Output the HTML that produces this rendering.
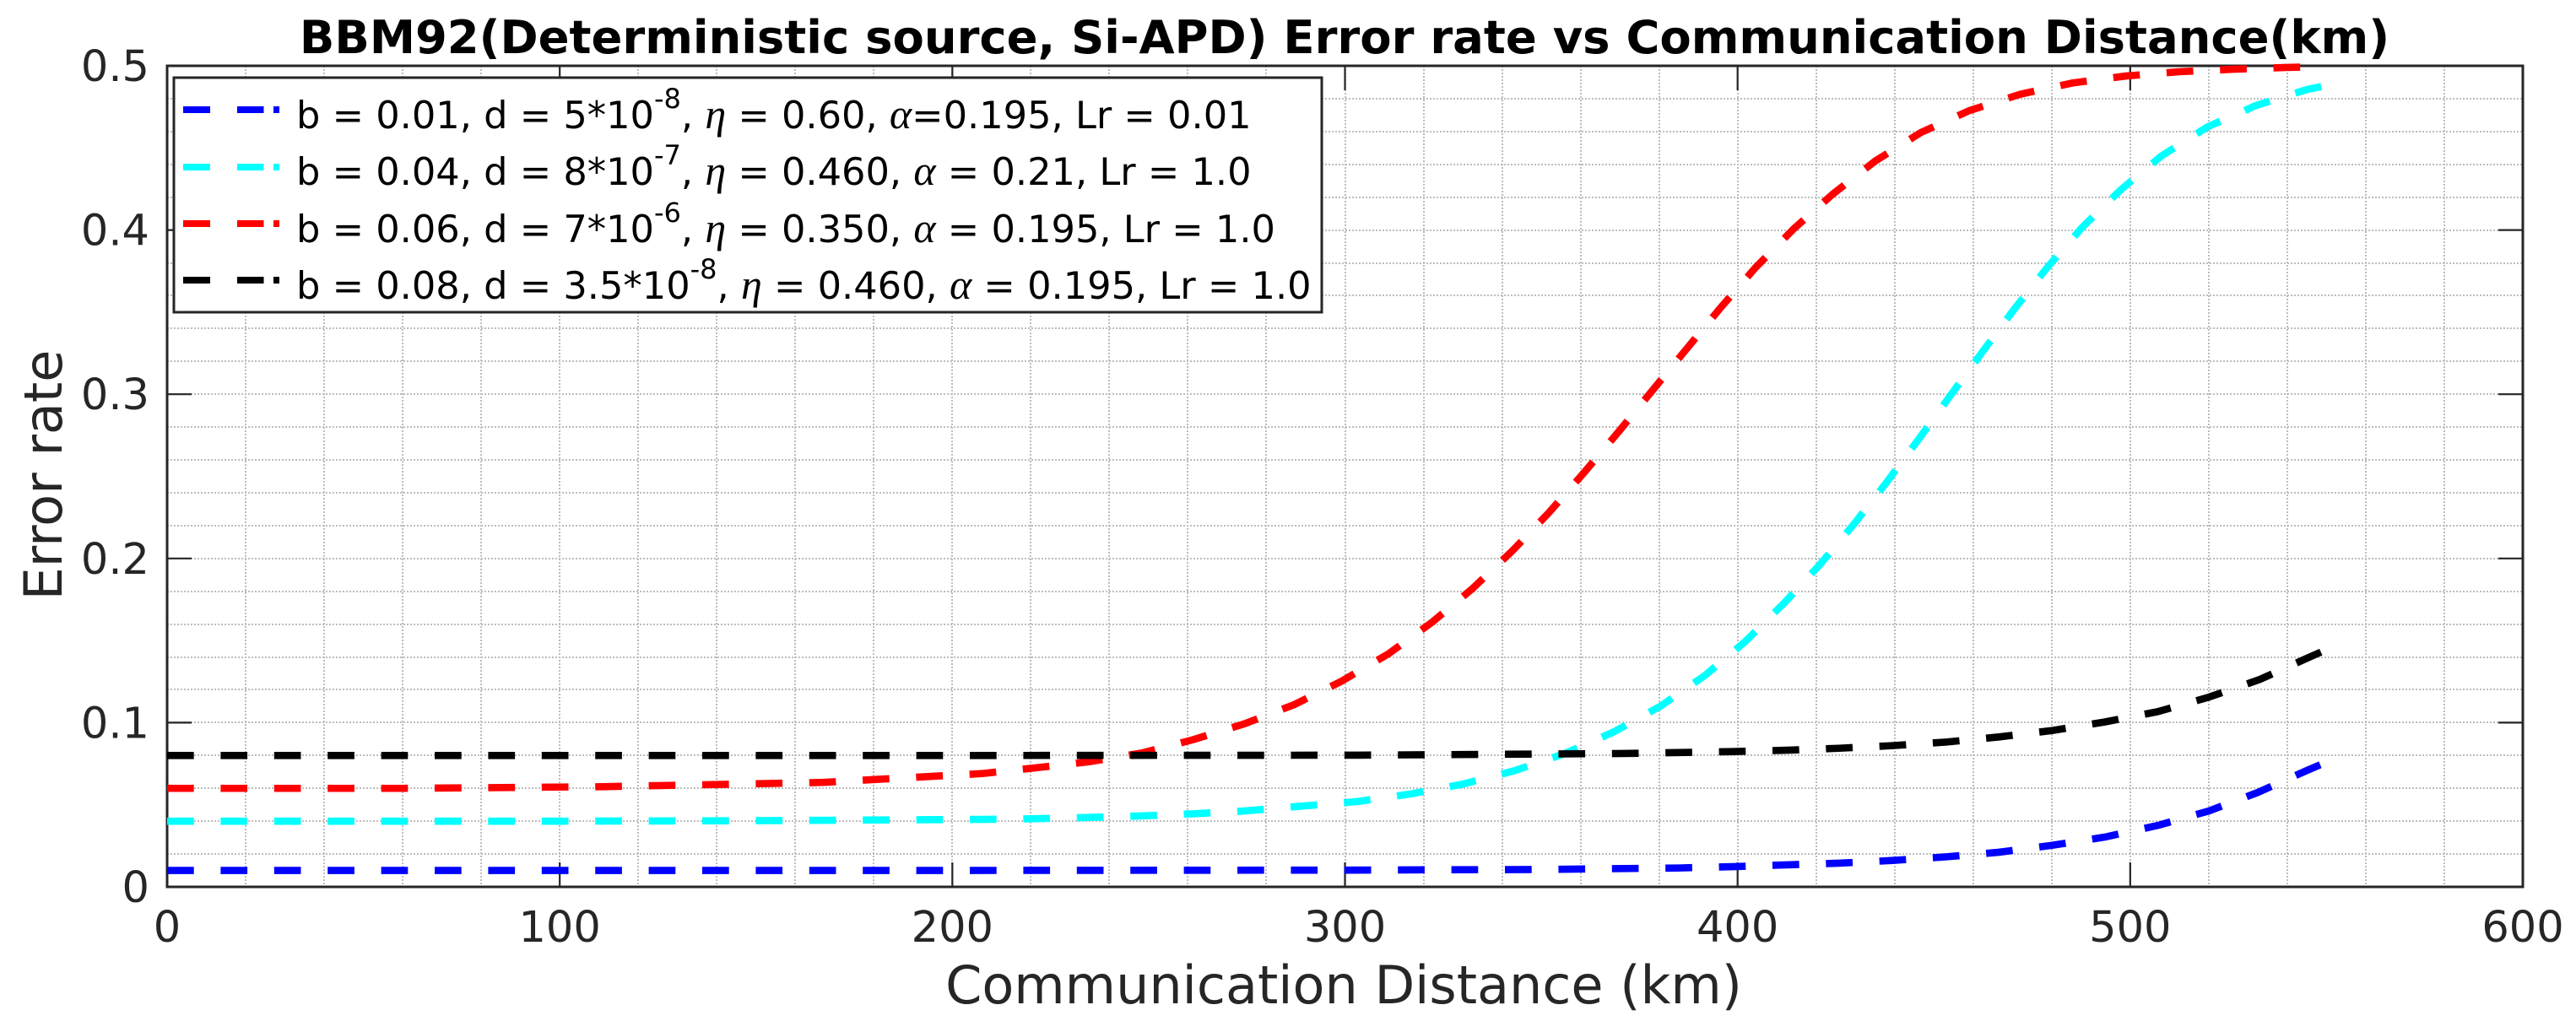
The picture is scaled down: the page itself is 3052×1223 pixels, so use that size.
<!DOCTYPE html>
<html lang="en">
<head>
<meta charset="utf-8">
<title>BBM92 Error rate vs Communication Distance</title>
<style>
html,body{margin:0;padding:0;background:#fff;}
svg{display:block;}
text{font-family:"DejaVu Sans",sans-serif;}
.math{font-family:"Liberation Serif",serif;font-style:italic;font-size:50px;}
.legend-label{font-size:44.7px;fill:#000;}
</style>
</head>
<body>
<svg id="chart" xmlns="http://www.w3.org/2000/svg" width="3052" height="1223" viewBox="0 0 3052 1223">
  <rect x="198" y="78" width="2791" height="973" fill="#fff"/>
  <g id="grid"></g>
  <g id="ticks"></g>
  <rect x="198" y="78" width="2791" height="973" fill="none" stroke="#262626" stroke-width="3"/>
  <g id="series"></g>
  <g id="tick-labels"></g>

  <text x="1593" y="63" text-anchor="middle" font-size="54.4" font-weight="bold" fill="#000">BBM92(Deterministic source, Si-APD) Error rate vs Communication Distance(km)</text>
  <text x="1592" y="1189" text-anchor="middle" font-size="62" fill="#262626">Communication Distance (km)</text>
  <text transform="translate(73 563) rotate(-90)" text-anchor="middle" font-size="62" fill="#262626">Error rate</text>

  <g>
    <rect x="206" y="92" width="1360" height="278" fill="#fff" stroke="#262626" stroke-width="3"/>
    <g>
      <line x1="217" x2="331" y1="130" y2="130" stroke="#0000ff" stroke-width="8" stroke-dasharray="32 32 31.5 11.5 7"/>
      <text class="legend-label" x="351" y="152">b = 0.01, d = 5*10<tspan dy="-24" font-size="32">-8</tspan><tspan dy="24">, </tspan><tspan class="math">η</tspan> = 0.60, <tspan class="math">α</tspan>=0.195, Lr = 0.01</text>
    </g>
    <g>
      <line x1="217" x2="331" y1="198" y2="198" stroke="#00ffff" stroke-width="8" stroke-dasharray="32 32 31.5 11.5 7"/>
      <text class="legend-label" x="351" y="219">b = 0.04, d = 8*10<tspan dy="-24" font-size="32">-7</tspan><tspan dy="24">, </tspan><tspan class="math">η</tspan> = 0.460, <tspan class="math">α</tspan> = 0.21, Lr = 1.0</text>
    </g>
    <g>
      <line x1="217" x2="331" y1="265" y2="265" stroke="#ff0000" stroke-width="8" stroke-dasharray="32 32 31.5 11.5 7"/>
      <text class="legend-label" x="351" y="287">b = 0.06, d = 7*10<tspan dy="-24" font-size="32">-6</tspan><tspan dy="24">, </tspan><tspan class="math">η</tspan> = 0.350, <tspan class="math">α</tspan> = 0.195, Lr = 1.0</text>
    </g>
    <g>
      <line x1="217" x2="331" y1="332" y2="332" stroke="#000000" stroke-width="8" stroke-dasharray="32 32 31.5 11.5 7"/>
      <text class="legend-label" x="351" y="354">b = 0.08, d = 3.5*10<tspan dy="-24" font-size="32">-8</tspan><tspan dy="24">, </tspan><tspan class="math">η</tspan> = 0.460, <tspan class="math">α</tspan> = 0.195, Lr = 1.0</text>
    </g>
  </g>
</svg>
<script>
var xTickValues = [0, 100, 200, 300, 400, 500, 600];
var xTickLabels = ["0", "100", "200", "300", "400", "500", "600"];
var yTickValues = [0, 0.1, 0.2, 0.3, 0.4, 0.5];
var yTickLabels = ["0", "0.1", "0.2", "0.3", "0.4", "0.5"];
var xGridValues = [20, 40, 60, 80, 100, 120, 140, 160, 180, 200, 220, 240, 260, 280, 300, 320, 340, 360, 380, 400, 420, 440, 460, 480, 500, 520, 540, 560, 580];
var yGridValues = [0.02, 0.04, 0.06, 0.08, 0.1, 0.12, 0.14, 0.16, 0.18, 0.2, 0.22, 0.24, 0.26, 0.28, 0.3, 0.32, 0.34, 0.36, 0.38, 0.4, 0.42, 0.44, 0.46, 0.48];

var blueKm = [0, 100, 200, 300, 350, 385, 398.8, 412.4, 425.8, 439.5, 453.2, 466.6, 480.1, 493.5, 507, 520, 532.4, 545, 550];
var blueError = [0.01, 0.01, 0.01, 0.0102, 0.0106, 0.0115, 0.0123, 0.0134, 0.0144, 0.0161, 0.0183, 0.0211, 0.0253, 0.0303, 0.0374, 0.0462, 0.0574, 0.0709, 0.076];

var cyanKm = [0, 100, 150, 207.6, 221, 234.8, 248.2, 261.3, 274.4, 287, 303, 316.5, 329.9, 343.1, 355.8, 368.4, 380.4, 391.6, 402, 411.8, 420.9, 429.7, 438.1, 446.2, 454.2, 462.3, 470.4, 478.9, 487.8, 497.6, 507.9, 519.6, 532, 545.1, 550];
var cyanError = [0.04, 0.04, 0.0403, 0.0411, 0.0415, 0.0423, 0.0432, 0.0445, 0.0462, 0.0488, 0.0519, 0.0565, 0.0625, 0.0707, 0.081, 0.0943, 0.1101, 0.1286, 0.1495, 0.1727, 0.1961, 0.2211, 0.2468, 0.2729, 0.2992, 0.3256, 0.3516, 0.3773, 0.4017, 0.4245, 0.445, 0.4627, 0.4758, 0.4856, 0.488];

var redKm = [0, 60, 111, 167, 207.6, 221.3, 234.8, 248.2, 261.3, 274.4, 287.1, 299.1, 311, 322.2, 332.5, 342.5, 351.9, 360.9, 369.7, 378.3, 386.9, 395.6, 404.6, 414.2, 424.2, 435.1, 446.7, 459, 472, 485.4, 498.9, 512.5, 526, 539.7, 550];
var redError = [0.06, 0.06, 0.061, 0.0636, 0.069, 0.0725, 0.0762, 0.0815, 0.0896, 0.0993, 0.111, 0.1252, 0.1418, 0.1612, 0.1817, 0.2043, 0.2278, 0.2523, 0.2772, 0.3023, 0.3273, 0.3525, 0.3772, 0.4005, 0.4218, 0.4421, 0.4594, 0.4727, 0.4827, 0.4896, 0.4938, 0.4964, 0.4979, 0.499, 0.4995];

var blackKm = [0, 200, 303, 371, 398.8, 412.4, 425.8, 439.5, 453.2, 466.6, 480.1, 493.5, 507, 520, 533, 545.2, 550];
var blackError = [0.08, 0.08, 0.0802, 0.0812, 0.0824, 0.0832, 0.0844, 0.086, 0.0882, 0.0913, 0.0952, 0.1004, 0.1067, 0.1155, 0.1263, 0.1394, 0.1445];

var NS = "http://www.w3.org/2000/svg";
var plotLeft = 198, plotRight = 2989, plotTop = 78, plotBottom = 1051;
var xMax = 600, yMax = 0.5, tickLength = 29;

function xScale(km) {
  return plotLeft + (km / xMax) * (plotRight - plotLeft);
}
function yScale(v) {
  return plotBottom - (v / yMax) * (plotBottom - plotTop);
}
function makeLine(x1, y1, x2, y2, stroke, width, dash) {
  var l = document.createElementNS(NS, "line");
  l.setAttribute("x1", x1);
  l.setAttribute("y1", y1);
  l.setAttribute("x2", x2);
  l.setAttribute("y2", y2);
  l.setAttribute("stroke", stroke);
  l.setAttribute("stroke-width", width);
  if (dash) {
    l.setAttribute("stroke-dasharray", dash);
    l.setAttribute("shape-rendering", "crispEdges");
  }
  return l;
}
function makeText(x, y, str, anchor) {
  var t = document.createElementNS(NS, "text");
  t.setAttribute("x", x);
  t.setAttribute("y", y);
  t.setAttribute("text-anchor", anchor);
  t.setAttribute("font-size", "51");
  t.setAttribute("fill", "#262626");
  t.textContent = str;
  return t;
}

var gridGroup = document.getElementById("grid");
xGridValues.forEach(function (v) {
  var l = makeLine(Math.round(xScale(v)), plotTop, Math.round(xScale(v)), plotBottom, "#bdbdbd", 2, "2 2");
  
  
  gridGroup.appendChild(l);
});
yGridValues.forEach(function (v) {
  var l = makeLine(plotLeft, Math.round(yScale(v)), plotRight, Math.round(yScale(v)), "#bdbdbd", 2, "2 2");
  
  
  gridGroup.appendChild(l);
});

var tickGroup = document.getElementById("ticks");
var labelGroup = document.getElementById("tick-labels");
xTickValues.forEach(function (v, i) {
  var x = xScale(v);
  var b = makeLine(x, plotBottom, x, plotBottom - tickLength, "#262626", 2.2);
  
  
  tickGroup.appendChild(b);
  var t = makeLine(x, plotTop, x, plotTop + tickLength, "#262626", 2.2);
  
  
  tickGroup.appendChild(t);
  var lab = makeText(x, 1116, xTickLabels[i], "middle");
  
  
  labelGroup.appendChild(lab);
});
yTickValues.forEach(function (v, i) {
  var y = yScale(v);
  var a = makeLine(plotLeft, y, plotLeft + tickLength, y, "#262626", 2.2);
  
  
  tickGroup.appendChild(a);
  var c = makeLine(plotRight, y, plotRight - tickLength, y, "#262626", 2.2);
  
  
  tickGroup.appendChild(c);
  var lab = makeText(177, y + 18, yTickLabels[i], "end");
  
  
  labelGroup.appendChild(lab);
});

function drawSeries(kms, errors, color, name) {
  var pts = kms.map(function (k, i) {
    return xScale(k).toFixed(2) + "," + yScale(errors[i]).toFixed(2);
  }).join(" ");
  var p = document.createElementNS(NS, "polyline");
  p.setAttribute("points", pts);
  p.setAttribute("fill", "none");
  p.setAttribute("stroke", color);
  p.setAttribute("stroke-width", "8.6");
  p.setAttribute("stroke-dasharray", "31.7 31.7");
  p.setAttribute("stroke-linejoin", "round");
  
  
  document.getElementById("series").appendChild(p);
}
drawSeries(blueKm, blueError, "#0000ff", "series-blue-line");
drawSeries(cyanKm, cyanError, "#00ffff", "series-cyan-line");
drawSeries(redKm, redError, "#ff0000", "series-red-line");
drawSeries(blackKm, blackError, "#000000", "series-black-line");
</script>
</body>
</html>
